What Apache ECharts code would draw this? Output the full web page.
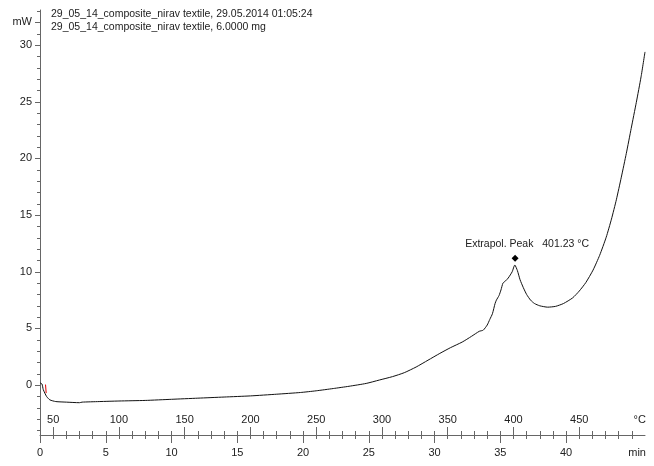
<!DOCTYPE html>
<html>
<head>
<meta charset="utf-8">
<script src="https://cdn.jsdelivr.net/npm/echarts@6/dist/echarts.min.js"></script>
<style>html,body{margin:0;padding:0;background:#fff}#c{width:654px;height:466px}</style>
</head>
<body>
<div id="c"></div>
<script>
// Time (min) and heat flow (mW)
var timeMin = [0, 0.15, 0.25, 0.5, 0.75, 1.2, 2.0, 3.0, 3.2, 4.5, 6, 8, 10, 12, 14, 16, 18, 19.8, 21, 22.3, 23.5, 24.8, 25.8, 26.8, 27.7, 28.6, 29.5, 30.4, 31.2, 32.1, 32.8, 33.4, 33.7, 34.0, 34.2, 34.4, 34.6, 34.7, 34.9, 35.05, 35.2, 35.4, 35.6, 35.9, 36.1, 36.3, 36.5, 36.75, 37.0, 37.3, 37.6, 38.0, 38.6, 39.2, 39.8, 40.5, 41.0, 41.5, 42.05, 42.55, 43.05, 43.45, 43.82, 44.2, 44.58, 44.95, 45.34, 45.7, 46.0];
var heatFlow = [0.2, 0.1, -0.4, -1.0, -1.3, -1.45, -1.5, -1.55, -1.5, -1.45, -1.4, -1.35, -1.25, -1.15, -1.05, -0.95, -0.8, -0.65, -0.5, -0.3, -0.1, 0.15, 0.45, 0.75, 1.1, 1.6, 2.2, 2.8, 3.3, 3.8, 4.3, 4.75, 4.85, 5.3, 5.8, 6.3, 7.2, 7.5, 7.9, 8.4, 9.0, 9.2, 9.45, 10.0, 10.6, 10.1, 9.3, 8.6, 8.0, 7.5, 7.2, 7.0, 6.88, 6.95, 7.2, 7.7, 8.3, 9.05, 10.15, 11.45, 13.05, 14.65, 16.35, 18.35, 20.45, 22.65, 24.95, 27.2, 29.4];

var yTickLabels = [0, 5, 10, 15, 20, 25, 30];
var yUnit = 'mW';
var minTickLabels = [0, 5, 10, 15, 20, 25, 30, 35, 40];
var minUnit = 'min';
var tempTickLabels = [50, 100, 150, 200, 250, 300, 350, 400, 450];
var tempUnit = '°C';

var peakTime = 36.123;
var peakValue = 11.2;
var peakText = 'Extrapol. Peak   401.23 °C';

var titleLines = ['29_05_14_composite_nirav textile, 29.05.2014 01:05:24', '29_05_14_composite_nirav textile, 6.0000 mg'];

var redMark = [[0.42, 0.05], [0.47, -0.7]];

var data = timeMin.map(function (t, i) { return [t, heatFlow[i]]; });

var FONT = 'Liberation Sans';
var TXT = '#222';
var AX = '#666';
var yMin = -4.4, yMax = 33.1;
var tMin = 0, tMax = 46;
var cMin = 40, cMax = 500;

function range(a, b) { var r = []; for (var i = a; i <= b; i++) r.push(i); return r; }

var chart = echarts.init(document.getElementById('c'));
chart.setOption({
  animation: false,
  backgroundColor: '#fff',
  title: {
    text: titleLines.join('\n'),
    left: 46, top: 3,
    textStyle: { fontFamily: FONT, fontSize: 10.5, fontWeight: 'normal', color: TXT, lineHeight: 12.5 }
  },
  grid: { left: 40, right: 9, top: 10, bottom: 31 },
  xAxis: [
    { // minute axis: labels and minor ticks downward
      type: 'value', min: tMin, max: tMax, position: 'bottom',
      axisLine: { show: true, onZero: false, lineStyle: { color: AX, width: 1 } },
      axisTick: { show: true, customValues: range(0, 45), length: 4, lineStyle: { color: AX } },
      axisLabel: { customValues: minTickLabels.concat([45.4]), margin: 12, fontFamily: FONT, fontSize: 11, color: TXT,
        formatter: function (v) { return v > 44 ? minUnit : String(v); } },
      splitLine: { show: false }
    },
    { // minute axis: minor ticks upward
      type: 'value', min: tMin, max: tMax, position: 'bottom',
      axisLine: { show: false, onZero: false },
      axisTick: { show: true, inside: true, customValues: range(0, 45), length: 4, lineStyle: { color: AX } },
      axisLabel: { show: false }, splitLine: { show: false }
    },
    { // minute axis: major ticks downward
      type: 'value', min: tMin, max: tMax, position: 'bottom',
      axisLine: { show: false, onZero: false },
      axisTick: { show: true, customValues: minTickLabels, length: 8, lineStyle: { color: AX } },
      axisLabel: { show: false }, splitLine: { show: false }
    },
    { // temperature axis: major ticks upward, labels inside
      type: 'value', min: cMin, max: cMax, position: 'bottom',
      axisLine: { show: false, onZero: false },
      axisTick: { show: true, inside: true, customValues: tempTickLabels, length: 8, lineStyle: { color: AX } },
      axisLabel: { inside: true, customValues: tempTickLabels.concat([496]), margin: 10, fontFamily: FONT, fontSize: 11, color: TXT,
        formatter: function (v) { return v > 470 ? tempUnit : String(v); } },
      splitLine: { show: false }
    }
  ],
  yAxis: [
    {
      type: 'value', min: yMin, max: yMax,
      axisLine: { show: true, onZero: false, lineStyle: { color: AX, width: 1 } },
      axisTick: { show: true, customValues: yTickLabels.concat([32]), length: 5, lineStyle: { color: AX } },
      axisLabel: { customValues: yTickLabels.concat([32]), margin: 8, fontFamily: FONT, fontSize: 11, color: TXT,
        formatter: function (v) { return v === 32 ? yUnit : String(v); } },
      splitLine: { show: false }
    },
    {
      type: 'value', min: yMin, max: yMax, position: 'left',
      axisLine: { show: false, onZero: false },
      axisTick: { show: true, customValues: range(-4, 33), length: 3, lineStyle: { color: AX } },
      axisLabel: { show: false }, splitLine: { show: false }
    }
  ],
  series: [{
    type: 'line',
    xAxisIndex: 0, yAxisIndex: 0,
    data: data,
    showSymbol: false,
    smooth: 0.2,
    lineStyle: { color: '#111', width: 1 },
    markPoint: {
      silent: true,
      data: [{
        coord: [peakTime, peakValue],
        symbol: 'diamond', symbolSize: 7,
        itemStyle: { color: '#000' },
        label: { show: true, position: 'top', distance: 5, offset: [12, 0], formatter: peakText,
          fontFamily: FONT, fontSize: 10.5, color: TXT }
      }]
    },
    markLine: {
      silent: true, symbol: 'none',
      lineStyle: { color: '#e00000', width: 1, type: 'solid' },
      label: { show: false },
      data: [[{ coord: redMark[0] }, { coord: redMark[1] }]]
    }
  }]
});
</script>
</body>
</html>
